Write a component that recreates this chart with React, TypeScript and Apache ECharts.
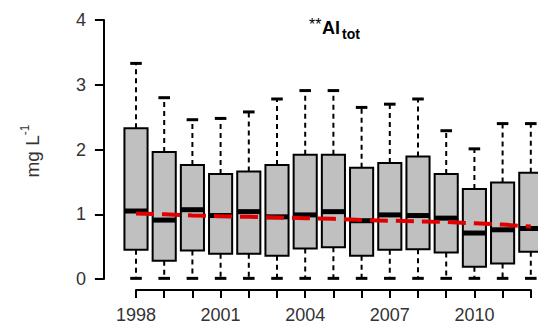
import React, { useEffect, useRef } from 'react';
import * as echarts from 'echarts';

const years = ['1998', '1999', '2000', '2001', '2002', '2003', '2004', '2005', '2006', '2007', '2008', '2009', '2010', '2011', '2012'];
const lowWhisker = [0.01, 0.01, 0.01, 0.01, 0.01, 0.01, 0.01, 0.01, 0.01, 0.01, 0.01, 0.01, 0.01, 0.01, 0.01];
const q1 = [0.45, 0.28, 0.44, 0.39, 0.39, 0.36, 0.47, 0.49, 0.36, 0.45, 0.46, 0.41, 0.19, 0.24, 0.42];
const median = [1.05, 0.91, 1.07, 0.98, 1.04, 0.96, 0.99, 1.04, 0.90, 0.99, 0.98, 0.94, 0.71, 0.76, 0.78];
const q3 = [2.33, 1.96, 1.76, 1.62, 1.66, 1.76, 1.92, 1.92, 1.72, 1.79, 1.89, 1.62, 1.39, 1.49, 1.64];
const highWhisker = [3.33, 2.80, 2.46, 2.48, 2.58, 2.78, 2.91, 2.91, 2.65, 2.70, 2.78, 2.29, 2.01, 2.40, 2.40];
const trend = [1.01, 1.00, 0.98, 0.97, 0.96, 0.95, 0.94, 0.93, 0.91, 0.90, 0.89, 0.88, 0.86, 0.84, 0.81];
const yMin = 0;
const yMax = 4;
const yStep = 1;
const titleStars = '**';
const titleMain = 'Al';
const titleSub = 'tot';
const yUnit = 'mg L';
const yUnitSup = '-1';

const FONT = 'Liberation Sans, Arial, sans-serif';

export default function App() {
  const ref = useRef<HTMLDivElement>(null);
  useEffect(() => {
    if (!ref.current) return;
    const chart = echarts.init(ref.current, null, { renderer: 'svg' });
    const boxData = years.map((_, i) => [i, lowWhisker[i], q1[i], median[i], q3[i], highWhisker[i]]);
    const option: any = {
      animation: false,
      backgroundColor: '#fff',
      grid: [
        { left: 121.9, width: 423, top: 20, height: 259 },
        { left: 136, width: 394.8, top: 280, height: 10 },
      ],
      xAxis: [
        { type: 'category', data: years, gridIndex: 0, show: false, boundaryGap: true },
        {
          type: 'category', data: years, gridIndex: 1, boundaryGap: false, position: 'bottom',
          axisLine: { show: true, lineStyle: { color: '#000', width: 2 } },
          axisTick: { show: true, length: 8, interval: 0, lineStyle: { color: '#000', width: 2 } },
          axisLabel: { interval: 2, margin: 16, fontSize: 18, color: '#333', fontFamily: FONT },
          splitLine: { show: false },
        },
      ],
      yAxis: [
        {
          type: 'value', gridIndex: 0, min: yMin, max: yMax, interval: yStep, offset: 18,
          axisLine: { show: true, lineStyle: { color: '#000', width: 2 } },
          axisTick: { show: true, length: 9, lineStyle: { color: '#000', width: 2 } },
          axisLabel: { margin: 18, fontSize: 18, color: '#333', fontFamily: FONT },
          splitLine: { show: false },
        },
        { type: 'value', gridIndex: 1, show: false },
      ],
      graphic: [
        { type: 'text', x: 309, y: 24, style: { text: titleStars, fontSize: 16, fontFamily: FONT, fill: '#000', verticalAlign: 'middle', align: 'left' } },
        { type: 'text', x: 322, y: 28, style: { text: titleMain, fontSize: 18, fontWeight: 'bold', fontFamily: FONT, fill: '#000', verticalAlign: 'middle', align: 'left' } },
        { type: 'text', x: 342, y: 34, style: { text: titleSub, fontSize: 14, fontWeight: 'bold', fontFamily: FONT, fill: '#000', verticalAlign: 'middle', align: 'left' } },
        {
          type: 'text', x: 32, y: 151, rotation: Math.PI / 2,
          style: {
            text: '{m|' + yUnit + '}{s|' + yUnitSup + '}',
            align: 'center', verticalAlign: 'middle', fill: '#333',
            rich: {
              m: { fontSize: 19, fontFamily: FONT, fill: '#333', lineHeight: 26, verticalAlign: 'middle' },
              s: { fontSize: 12, fontFamily: FONT, fill: '#333', lineHeight: 12, verticalAlign: 'top' },
            },
          },
        },
      ],
      series: [
        {
          type: 'custom',
          xAxisIndex: 0, yAxisIndex: 0,
          data: boxData,
          encode: { x: 0, y: [1, 2, 3, 4, 5] },
          renderItem: (params: any, api: any) => {
            const xi = api.value(0);
            const lo = api.coord([xi, api.value(1)]);
            const b1 = api.coord([xi, api.value(2)]);
            const md = api.coord([xi, api.value(3)]);
            const b3 = api.coord([xi, api.value(4)]);
            const hi = api.coord([xi, api.value(5)]);
            const band = api.size([1, 0])[0];
            const bw = band * 0.82;
            const cw = bw * 0.5;
            const cx = md[0];
            const dash = { stroke: '#000', lineWidth: 2, lineDash: [5, 4] };
            const cap = { stroke: '#000', lineWidth: 3 };
            return {
              type: 'group',
              children: [
                { type: 'line', shape: { x1: cx, y1: b3[1], x2: cx, y2: hi[1] }, style: dash },
                { type: 'line', shape: { x1: cx, y1: b1[1], x2: cx, y2: lo[1] }, style: dash },
                { type: 'line', shape: { x1: cx - cw / 2, y1: hi[1], x2: cx + cw / 2, y2: hi[1] }, style: cap },
                { type: 'line', shape: { x1: cx - cw / 2, y1: lo[1], x2: cx + cw / 2, y2: lo[1] }, style: cap },
                { type: 'rect', shape: { x: cx - bw / 2, y: b3[1], width: bw, height: b1[1] - b3[1] }, style: { fill: '#c0c0c0', stroke: '#000', lineWidth: 2 } },
                { type: 'line', shape: { x1: cx - bw / 2, y1: md[1], x2: cx + bw / 2, y2: md[1] }, style: { stroke: '#000', lineWidth: 5 } },
              ],
            };
          },
          z: 2,
        },
        {
          type: 'line',
          xAxisIndex: 0, yAxisIndex: 0,
          data: trend,
          symbol: 'none',
          lineStyle: { color: '#e00000', width: 4, type: [18, 8] },
          z: 5,
        },
      ],
    };
    chart.setOption(option);
    return () => chart.dispose();
  }, []);
  return (
    <div style={{ position: 'fixed', left: 0, top: 0, width: 538, height: 334, overflow: 'hidden', background: '#fff' }}>
      <div ref={ref} style={{ width: 560, height: 334 }} />
    </div>
  );
}
